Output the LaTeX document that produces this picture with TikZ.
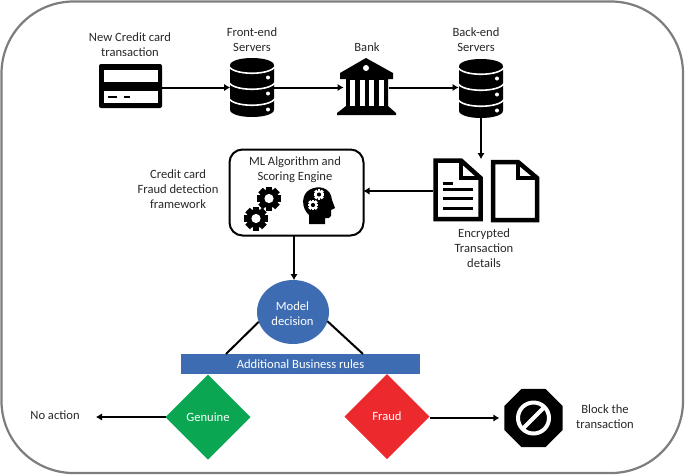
\documentclass[tikz,border=0pt]{standalone}
\usepackage{fontspec}
\setmainfont{Carlito}
\usetikzlibrary{arrows.meta, shapes.geometric}

\definecolor{framegray}{RGB}{125,125,125}
\definecolor{modelblue}{RGB}{62,108,178}
\definecolor{genuinegreen}{RGB}{10,166,82}
\definecolor{fraudred}{RGB}{236,42,46}
\definecolor{labelgray}{RGB}{40,40,40}

\tikzset{
	flow/.style={draw=black, line width=2pt, -{Latex[length=6pt,width=7.5pt]}},
	plainline/.style={draw=black, line width=2pt},
	label/.style={align=center, text=labelgray, font=\fontsize{12.6}{15}\selectfont, inner sep=0pt},
	whitelabel/.style={align=center, text=white, font=\fontsize{12.6}{15}\selectfont, inner sep=0pt},
	iconbox/.style={inner sep=0pt, outer sep=0pt},
	decision/.style={diamond, inner sep=0pt, outer sep=0pt, minimum width=85pt, minimum height=85pt},
	pics/serverstack/.style={code={
		\fill[black] (-22,-22) .. controls (-22,-32) and (22,-32) .. (22,-22) -- (22,22) .. controls (22,32) and (-22,32) .. (-22,22) -- cycle;
		\foreach \off in {0,16,32} {
			\draw[white, line width=1.6pt] (-23,-21+\off) .. controls (-18,-12+\off) and (18,-12+\off) .. (23,-21+\off);
			\fill[white] (16,-10+\off) circle (2);
		}
	}},
	pics/gearicon/.style 2 args={code={
		\foreach \a in {0,45,90,135} {
			\fill[#1, rotate=\a] (-3.2,-12) rectangle (3.2,12);
		}
		\fill[#1] (0,0) circle (9.5);
		\fill[#2] (0,0) circle (4.6);
	}},
}

\begin{document}
\begin{tikzpicture}[x=1pt, y=-1pt]
	\useasboundingbox (0,0) rectangle (685,475);
	\draw[framegray, line width=2.2pt, rounded corners=72pt] (1.5,1.5) rectangle (683,473);

	% --- top row ---
	\node[iconbox, minimum width=63pt, minimum height=44pt] (card) at (130.5,87.5) {};
	\node[iconbox, minimum width=44pt, minimum height=59pt] (frontsrv) at (252,87.5) {};
	\node[iconbox, minimum width=45pt, minimum height=57pt] (bank) at (366,87.5) {};
	\node[iconbox, minimum width=45pt, minimum height=59pt] (backsrv) at (481,87.5) {};

	% credit card
	\fill[black, rounded corners=2pt] (99,64) rectangle (162,108);
	\fill[white] (104,70) rectangle (158,82);
	\fill[white] (104,91) rectangle (158,103);
	\draw[black, line width=2.4pt] (108,97) -- (117,97) (124,97) -- (130,97);

	% servers
	\pic at (frontsrv) {serverstack};
	\pic[yshift=-1pt] at (backsrv) {serverstack};

	% bank
	\fill[black] (366,58) -- (393,73) -- (393,79) -- (388,79) -- (388,106) -- (396,113) -- (396,115) -- (337,115) -- (337,113) -- (346,106) -- (346,79) -- (340,79) -- (340,73) -- cycle;
	\fill[white] (366,68) circle (3);
	\foreach \colx in {350,359.5,369,378.5} {
		\fill[white] (\colx,80) rectangle (\colx+5,106);
	}

	\draw[flow] (card) -- (frontsrv);
	\draw[flow] (frontsrv) -- (bank);
	\draw[flow] (bank) -- (backsrv);

	\node[label] (cardtext) at (130,45) {New Credit card\\transaction};
	\node[label] (fronttext) at (252,40) {Front-end\\Servers};
	\node[label] (banktext) at (367,47) {Bank};
	\node[label] (backtext) at (476,40) {Back-end\\Servers};

	% --- documents ---
	\node[iconbox, minimum width=50pt, minimum height=62pt] (docfull) at (458,191) {};
	\node[iconbox, minimum width=48pt, minimum height=62pt] (docempty) at (515,191) {};
	\draw[black, line width=4.5pt, line join=miter, fill=white] (435.5,160.5) -- (461,160.5) -- (480.5,178) -- (480.5,219) -- (435.5,219) -- cycle;
	\draw[black, line width=3.5pt] (461,160.5) -- (461,178) -- (480.5,178);
	\draw[black, line width=3pt] (443,183) -- (453,183) (443,189.5) -- (473,189.5) (443,198.5) -- (473,198.5) (443,208) -- (473,208);
	\draw[black, line width=4.5pt, line join=miter, fill=white] (493,162) -- (518,162) -- (537,178) -- (537,220) -- (493,220) -- cycle;
	\draw[black, line width=3.5pt] (518,162) -- (518,178) -- (537,178);
	\coordinate (docin) at (481,159);
	\draw[flow] (backsrv.south) -- (docin);
	\node[label] (doctext) at (484,248) {Encrypted\\Transaction\\details};

	% --- ML engine ---
	\node[iconbox, draw=black, line width=2pt, rounded corners=13pt, minimum width=134pt, minimum height=86pt] (engine) at (296.5,192.5) {};
	\draw[flow] (docfull.west) -- (engine.east |- docfull.west);
	\node[label] (enginetext) at (295,169.5) {ML Algorithm and\\Scoring Engine};
	\node[label] (frametext) at (178,189) {Credit card\\Fraud detection\\framework};
	\pic at (269,198.5) {gearicon={black}{white}};
	\pic at (256,218.5) {gearicon={black}{white}};

	% head
	\fill[black] (309,224) -- (309,215) .. controls (301,208) and (301,194) .. (310,189.5) .. controls (318,185) and (331,187) .. (332,200) -- (335,208) -- (331,210) -- (331,216) .. controls (330,219) and (328,218) .. (325,218) -- (325,224) -- cycle;
	\pic[scale=0.45] at (319,194.5) {gearicon={white}{black}};
	\pic[scale=0.45] at (313,205) {gearicon={white}{black}};

	% --- decision ---
	\node[ellipse, fill=modelblue, inner sep=0pt, outer sep=0pt, minimum width=72pt, minimum height=64pt] (model) at (293,312) {};
	\node[whitelabel] (modeltext) at (292.5,313.5) {Model\\decision};
	\draw[flow] (engine.south -| 294,0) -- (model.north -| 294,0);
	\node[fill=modelblue, inner sep=0pt, outer sep=0pt, minimum width=239pt, minimum height=20pt, text=white, font=\fontsize{12.6}{15}\selectfont] (rules) at (300.5,364) {Additional Business rules};
	\coordinate (rulesleft) at (226,354);
	\coordinate (rulesright) at (363,354);
	\draw[plainline] (model.196) -- (rulesleft);
	\draw[plainline] (model.-15) -- (rulesright);

	\node[decision, fill=genuinegreen, text=white, font=\fontsize{12.6}{15}\selectfont] (genuine) at (208,417) {Genuine};
	\node[decision, fill=fraudred, text=white, font=\fontsize{12.6}{15}\selectfont] (fraud) at (387,416.5) {Fraud};

	% --- outcomes ---
	\node[label] (noaction) at (55,415) {No action};
	\node[regular polygon, regular polygon sides=8, fill=black, inner sep=0pt, outer sep=0pt, minimum size=63pt] (stop) at (533.5,418) {};
	\draw[white, line width=4pt] (stop.center) circle (15.5);
	\draw[white, line width=4pt] (522.5,429) -- (544.5,407);
	\node[label] (blocktext) at (605,417) {Block the\\transaction};
	\coordinate (noactionend) at (96,417);
	\draw[flow] (genuine.west) -- (noactionend);
	\draw[flow] (fraud.east |- stop.center) -- ([xshift=-5pt]stop.west);
\end{tikzpicture}
\end{document}
